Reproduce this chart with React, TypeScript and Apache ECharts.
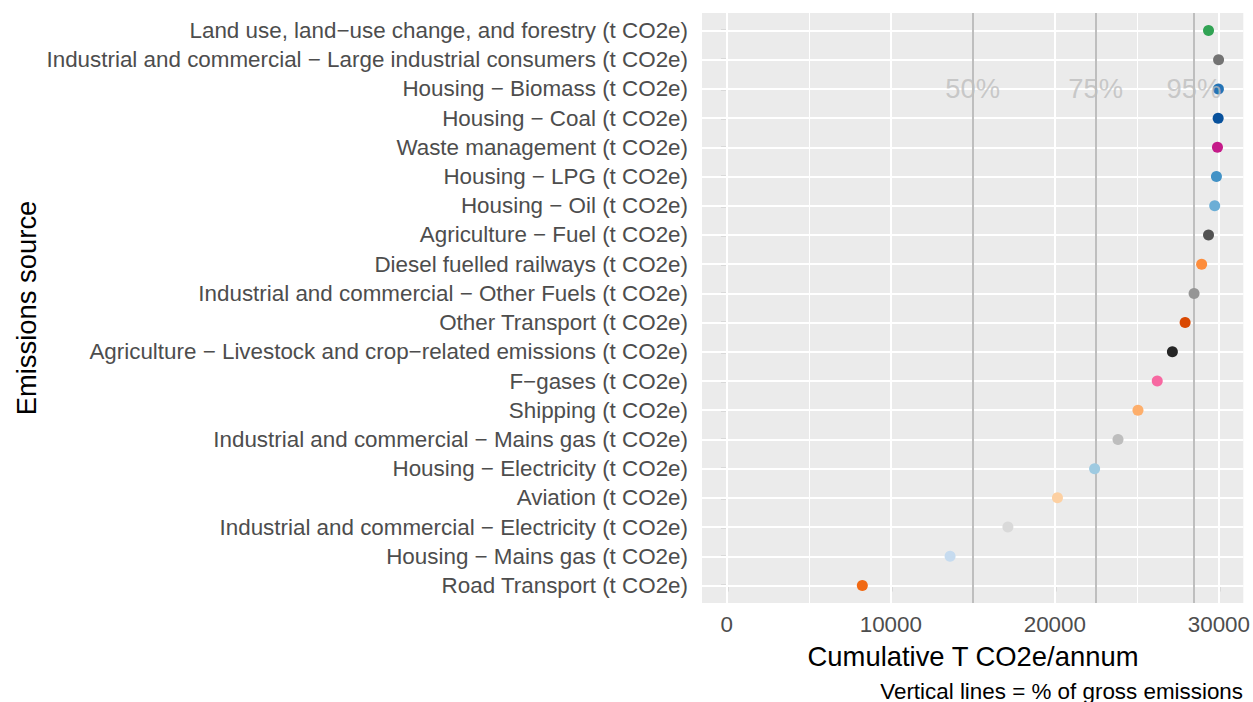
import React, { useEffect, useRef } from "react";
import * as echarts from "echarts";

// Categories listed from bottom (index 0) to top (index 19)
const categories: string[] = [
  "Road Transport (t CO2e)",
  "Housing − Mains gas (t CO2e)",
  "Industrial and commercial − Electricity (t CO2e)",
  "Aviation (t CO2e)",
  "Housing − Electricity (t CO2e)",
  "Industrial and commercial − Mains gas (t CO2e)",
  "Shipping (t CO2e)",
  "F−gases (t CO2e)",
  "Agriculture − Livestock and crop−related emissions (t CO2e)",
  "Other Transport (t CO2e)",
  "Industrial and commercial − Other Fuels (t CO2e)",
  "Diesel fuelled railways (t CO2e)",
  "Agriculture − Fuel (t CO2e)",
  "Housing − Oil (t CO2e)",
  "Housing − LPG (t CO2e)",
  "Waste management (t CO2e)",
  "Housing − Coal (t CO2e)",
  "Housing − Biomass (t CO2e)",
  "Industrial and commercial − Large industrial consumers (t CO2e)",
  "Land use, land−use change, and forestry (t CO2e)",
];

const cumulativeValues: number[] = [
  8265, 13614, 17139, 20159, 22425, 23851, 25068, 26243, 27166, 27942,
  28488, 28949, 29369, 29746, 29851, 29914, 29956, 29972, 29982, 29369,
];

const pointColors: string[] = [
  "#f16913", "#c6dbef", "#d9d9d9", "#fdd0a2", "#9ecae1", "#bdbdbd",
  "#fdae6b", "#f768a1", "#252525", "#d94801", "#969696", "#fd8d3c",
  "#525252", "#6baed6", "#4292c6", "#c51b8a", "#08519c", "#2474b6",
  "#737373", "#31a354",
];

const percentLevels: number[] = [50, 75, 95];
const percentLabels: string[] = ["50%", "75%", "95%"];
const percentLabelRow = "Housing − Biomass (t CO2e)";

const xTicks: number[] = [0, 10000, 20000, 30000];
const xMinorTicks: number[] = [5000, 15000, 25000];

const FONT = "'Liberation Sans', Arial, Helvetica, sans-serif";

export default function App() {
  const ref = useRef<HTMLDivElement>(null);

  useEffect(() => {
    if (!ref.current) return;
    const chart = echarts.init(ref.current, undefined, { renderer: "svg" });
    const gross = Math.max(...cumulativeValues);
    const yIdx = categories.map((_, i) => i);
    const labelRow = categories.indexOf(percentLabelRow);

    const gridLineSeries = {
      type: "scatter",
      name: "grid",
      data: [],
      z: 1,
      silent: true,
      markLine: {
        z: 1,
        silent: true,
        symbol: ["none", "none"],
        label: { show: false },
        animation: false,
        data: [
          ...xMinorTicks.map((v) => ({ xAxis: v, lineStyle: { color: "#ffffff", width: 1, type: "solid" } })),
          ...xTicks.map((v) => ({ xAxis: v, lineStyle: { color: "#ffffff", width: 2, type: "solid" } })),
          ...yIdx.map((i) => ({ yAxis: i, lineStyle: { color: "#ffffff", width: 2, type: "solid" } })),
        ],
      },
    };

    const vlineSeries = {
      type: "scatter",
      name: "vlines",
      data: [],
      z: 2,
      silent: true,
      markLine: {
        z: 2,
        silent: true,
        symbol: ["none", "none"],
        label: { show: false },
        animation: false,
        data: percentLevels.map((p) => ({
          xAxis: (gross * p) / 100,
          lineStyle: { color: "#bebebe", width: 2, type: "solid" },
        })),
      },
    };

    const pointSeries = {
      type: "scatter",
      name: "points",
      z: 10,
      symbolSize: 11,
      data: cumulativeValues.map((v, i) => ({
        value: [v, i],
        itemStyle: { color: pointColors[i], opacity: 1 },
      })),
    };

    const labelSeries = {
      type: "scatter",
      name: "pctlabels",
      z: 12,
      symbolSize: 1,
      itemStyle: { color: "rgba(0,0,0,0)" },
      silent: true,
      data: percentLevels.map((p, k) => ({
        value: [(gross * p) / 100, labelRow],
        label: {
          show: true,
          position: "inside",
          formatter: percentLabels[k],
          fontSize: 27.4,
          fontFamily: FONT,
          color: "#bebebe",
        },
      })),
    };

    chart.setOption({
      animation: false,
      backgroundColor: "#ffffff",
      textStyle: { fontFamily: FONT },
      grid: {
        left: 702,
        top: 13,
        width: 542,
        height: 590,
        show: true,
        backgroundColor: "#EBEBEB",
        borderWidth: 0,
        containLabel: false,
      },
      xAxis: {
        type: "value",
        min: -1510,
        max: 31490,
        axisLine: { show: false },
        splitLine: { show: false },
        axisTick: {
          show: true,
          customValues: xTicks,
          length: 6,
          lineStyle: { color: "#333333", width: 1.2 },
        },
        axisLabel: {
          show: true,
          customValues: xTicks,
          fontSize: 22.4,
          fontFamily: FONT,
          color: "#4d4d4d",
          margin: 10,
          formatter: (v: number) => String(v),
        },
      },
      yAxis: {
        type: "value",
        min: -0.6,
        max: categories.length - 1 + 0.6,
        axisLine: { show: false },
        splitLine: { show: false },
        axisTick: {
          show: true,
          customValues: yIdx,
          length: 6,
          lineStyle: { color: "#333333", width: 1.2 },
        },
        axisLabel: {
          show: true,
          customValues: yIdx,
          fontSize: 22.4,
          fontFamily: FONT,
          color: "#4d4d4d",
          margin: 14,
          formatter: (v: number) => categories[Math.round(v)] ?? "",
        },
      },
      graphic: [
        {
          type: "text",
          x: 973,
          y: 656,
          style: {
            text: "Cumulative T CO2e/annum",
            fontSize: 27.4,
            fontFamily: FONT,
            fill: "#000000",
            align: "center",
            verticalAlign: "middle",
          },
        },
        {
          type: "text",
          x: 1243,
          y: 691,
          style: {
            text: "Vertical lines = % of gross emissions",
            fontSize: 22.4,
            fontFamily: FONT,
            fill: "#000000",
            align: "right",
            verticalAlign: "middle",
          },
        },
        {
          type: "text",
          x: 26,
          y: 308,
          rotation: Math.PI / 2,
          style: {
            text: "Emissions source",
            fontSize: 27.4,
            fontFamily: FONT,
            fill: "#000000",
            align: "center",
            verticalAlign: "middle",
          },
        },
      ],
      series: [gridLineSeries, vlineSeries, pointSeries, labelSeries],
    });

    return () => {
      chart.dispose();
    };
  }, []);

  return (
    <div
      ref={ref}
      style={{ position: "fixed", left: 0, top: 0, width: 1253, height: 702 }}
    />
  );
}
